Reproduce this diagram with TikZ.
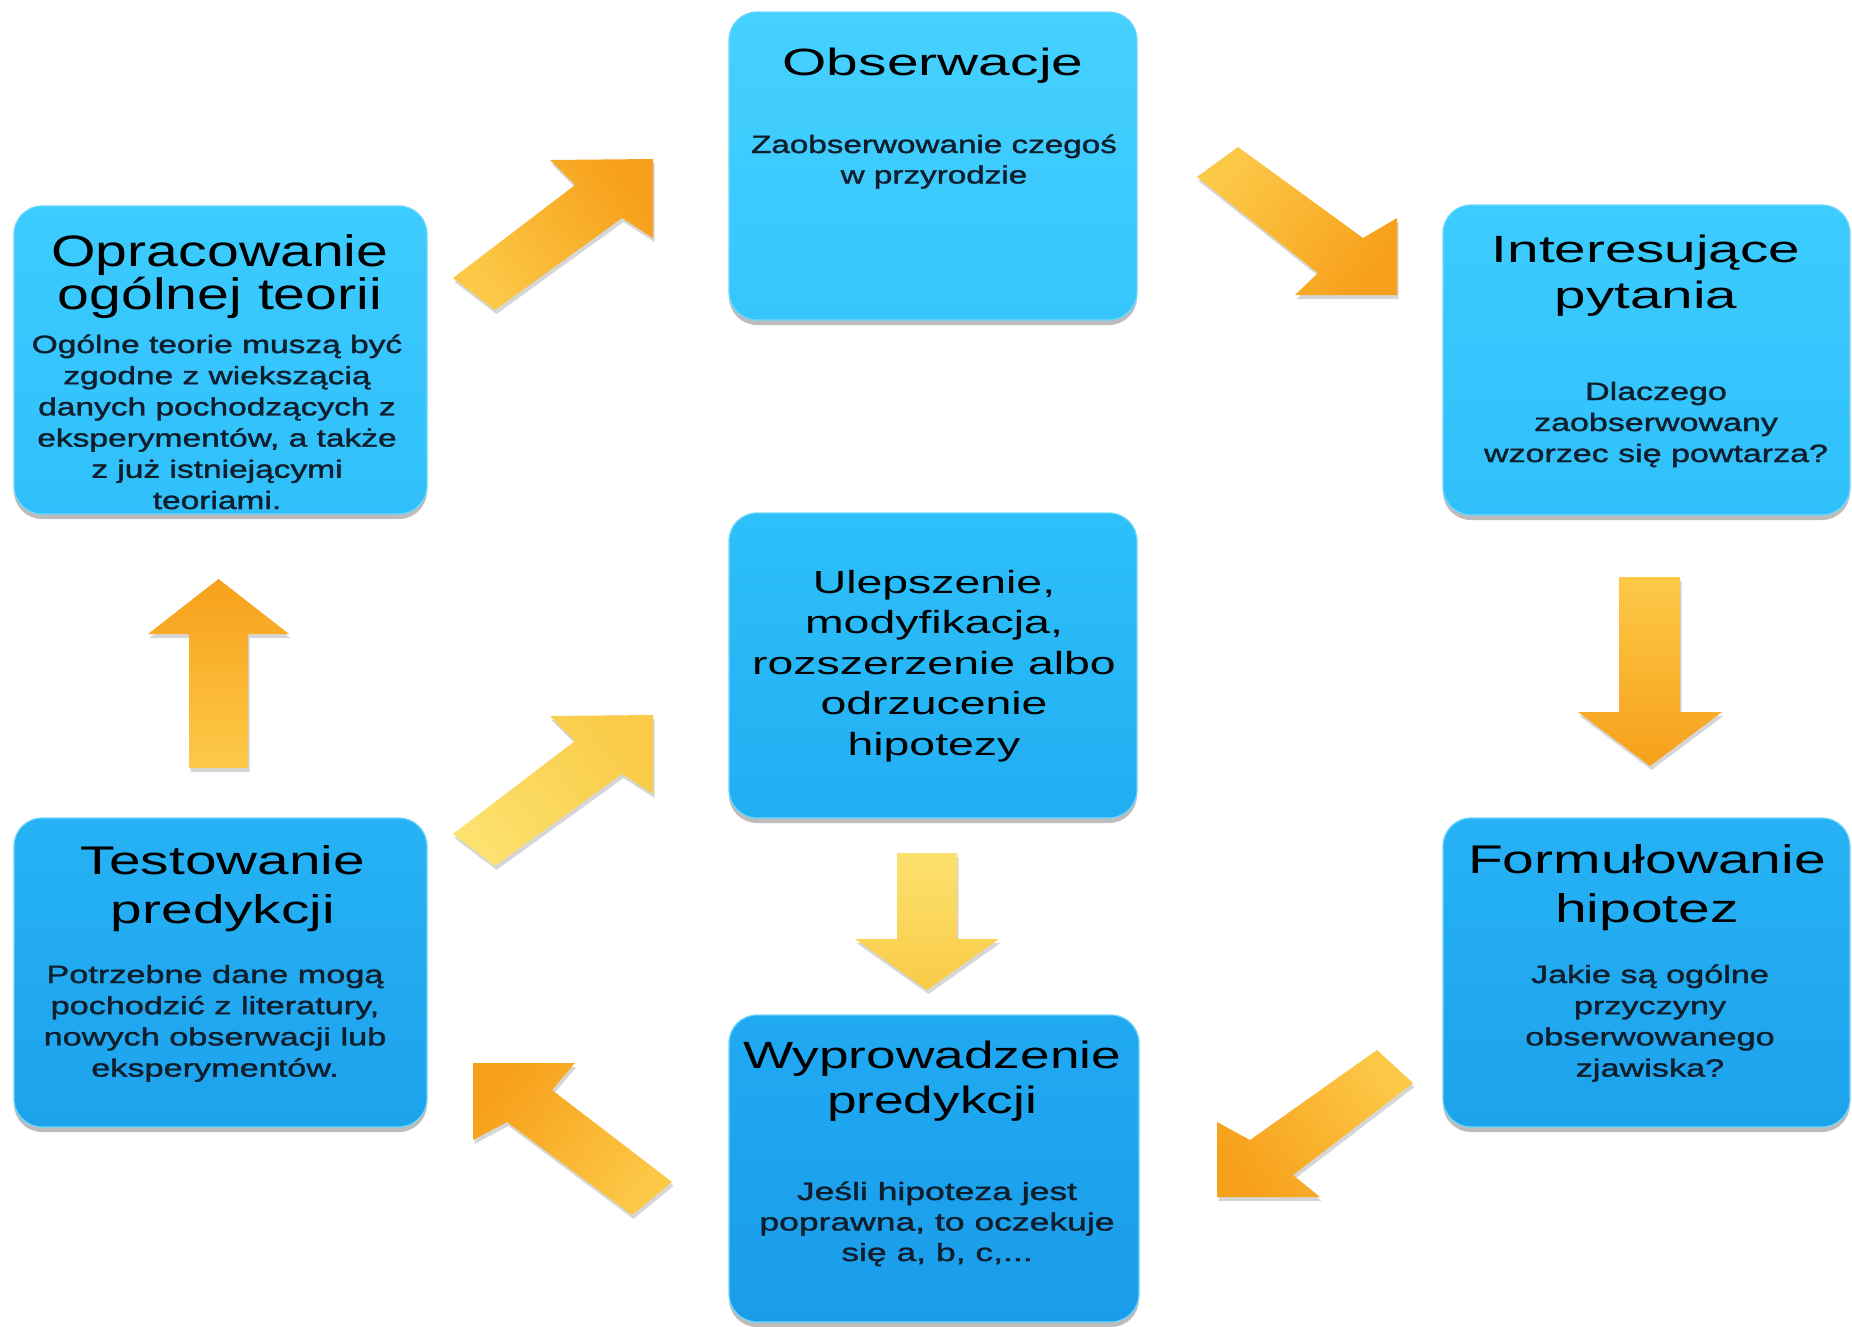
\documentclass[tikz,border=0pt]{standalone}
\usepackage{fontspec}
\setmainfont{Liberation Sans}
\newfontfamily\bodyfnt{Liberation Sans}[FakeBold=1.2]
\usepackage{graphicx}
\usetikzlibrary{shadows}
\definecolor{rowAt}{HTML}{45D1FF}
\definecolor{rowAb}{HTML}{36C6FC}
\definecolor{rowBt}{HTML}{3DCCFF}
\definecolor{rowBb}{HTML}{2FBFFA}
\definecolor{rowCt}{HTML}{2DC0FA}
\definecolor{rowCb}{HTML}{22AEF2}
\definecolor{rowDt}{HTML}{26B2F5}
\definecolor{rowDb}{HTML}{1DA2EC}
\definecolor{rowEt}{HTML}{20AAF2}
\definecolor{rowEb}{HTML}{1A9CEA}
\definecolor{boxedge}{HTML}{6FD6FA}
\definecolor{bodytxt}{HTML}{0F1E2C}
\definecolor{headOr}{HTML}{F7A01B}
\definecolor{tailOr}{HTML}{FCC947}
\definecolor{headYe}{HTML}{F9CB47}
\definecolor{tailYe}{HTML}{FCE16E}
\newcommand{\txtblock}[4]{\scalebox{#1}[1]{\fontsize{#2}{#3}\selectfont\lineskiplimit=-1000pt\lineskip=0pt\relax\vtop{\halign{\hfil##\hfil\cr#4\crcr}}}}
\newcommand{\barrow}[4]{%
  \fill[black,opacity=0.16,xshift=1.5pt,yshift=-4pt] #4 -- cycle;
  \shade[top color=#1,bottom color=#2,shading angle=#3] #4 -- cycle;}
\tikzset{
  box/.style={rectangle, rounded corners=28pt, inner sep=0pt, draw=boxedge, line width=1.2pt,
    drop shadow={shadow xshift=0pt, shadow yshift=-5pt, opacity=0.35, fill=black!75}},
  ttl/.style={anchor=base, inner sep=0pt, text=black},
  bdy/.style={anchor=base, inner sep=0pt, text=bodytxt, font=\bodyfnt}
}
\begin{document}
\begin{tikzpicture}[x=1pt,y=-1pt]
\fill[white] (0,0) rectangle (1852,1326);
\useasboundingbox (0,0) rectangle (1852,1326);

% boxes
\node[box, minimum width=408pt, minimum height=308pt, top color=rowAt, bottom color=rowAb] (obs) at (933,166) {};
\node[box, minimum width=413pt, minimum height=308pt, top color=rowBt, bottom color=rowBb] (teo) at (220.5,360) {};
\node[box, minimum width=407pt, minimum height=310pt, top color=rowBt, bottom color=rowBb] (pyt) at (1646.5,360) {};
\node[box, minimum width=408pt, minimum height=305pt, top color=rowCt, bottom color=rowCb] (ule) at (933,665.5) {};
\node[box, minimum width=413pt, minimum height=309pt, top color=rowDt, bottom color=rowDb] (tes) at (220.5,972.5) {};
\node[box, minimum width=407pt, minimum height=309pt, top color=rowDt, bottom color=rowDb] (hip) at (1646.5,972.5) {};
\node[box, minimum width=410pt, minimum height=307pt, top color=rowEt, bottom color=rowEb] (pre) at (934,1168.5) {};

% texts
\node[ttl] (obs-t) at (933,75) {\txtblock{1.5}{38}{40}{Obserwacje}};
\node[bdy] (obs-b) at (934,153) {\txtblock{1.33}{25}{30.5}{Zaobserwowanie czegoś\cr w przyrodzie}};

\node[ttl] (teo-t) at (220,266) {\txtblock{1.3}{44}{43}{Opracowanie\cr ogólnej teorii}};
\node[bdy] (teo-b) at (217,353) {\txtblock{1.34}{25}{31.2}{Ogólne teorie muszą być\cr zgodne z wiekszącią\cr danych pochodzących z\cr eksperymentów, a także\cr z już istniejącymi\cr teoriami.}};

\node[ttl] (pyt-t) at (1646,262) {\txtblock{1.49}{38}{46}{Interesujące\cr pytania}};
\node[bdy] (pyt-b) at (1656,400) {\txtblock{1.36}{25}{31}{Dlaczego\cr zaobserwowany\cr wzorzec się powtarza?}};

\node[ttl] (ule-t) at (934,593) {\txtblock{1.45}{32}{40.5}{Ulepszenie,\cr modyfikacja,\cr rozszerzenie albo\cr odrzucenie\cr hipotezy}};

\node[ttl] (tes-t) at (223,874) {\txtblock{1.42}{40}{49}{Testowanie\cr predykcji}};
\node[bdy] (tes-b) at (215,983) {\txtblock{1.37}{25}{31.2}{Potrzebne dane mogą\cr pochodzić z literatury,\cr nowych obserwacji lub\cr eksperymentów.}};

\node[ttl] (hip-t) at (1647,873) {\txtblock{1.425}{40}{49}{Formułowanie\cr hipotez}};
\node[bdy] (hip-b) at (1650,983) {\txtblock{1.37}{25}{31.2}{Jakie są ogólne\cr przyczyny\cr obserwowanego\cr zjawiska?}};

\node[ttl] (pre-t) at (932,1068) {\txtblock{1.40}{38}{45}{Wyprowadzenie\cr predykcji}};
\node[bdy] (pre-b) at (937,1200) {\txtblock{1.42}{25}{30.5}{Jeśli hipoteza jest\cr poprawna, to oczekuje\cr się a, b, c,...}};

% block arrows
\barrow{headOr}{tailOr}{-53}{(453,278) -- (575,185) -- (550,160) -- (653,159) -- (653,238) -- (622,218) -- (495,310)}
\barrow{headOr}{tailOr}{-126}{(1197,177) -- (1238,147) -- (1363,238) -- (1397,218) -- (1397,295) -- (1295,295) -- (1318,273)}
\barrow{headOr}{tailOr}{180}{(1619,577) -- (1680,577) -- (1680,712) -- (1722,712) -- (1650,766) -- (1578,712) -- (1619,712)}
\barrow{headOr}{tailOr}{126}{(1377,1050) -- (1413,1083) -- (1293,1175) -- (1320,1197) -- (1217,1197) -- (1217,1122) -- (1250,1140)}
\barrow{headOr}{tailOr}{53}{(473,1063) -- (575,1063) -- (552,1090) -- (672,1182) -- (632,1215) -- (507,1122) -- (473,1140)}
\barrow{headOr}{tailOr}{0}{(189,768) -- (189,634) -- (148,634) -- (218.5,579) -- (289,634) -- (248,634) -- (248,768)}
\barrow{headYe}{tailYe}{-53}{(453,834) -- (575,741) -- (550,716) -- (653,715) -- (653,794) -- (622,774) -- (495,866)}
\barrow{headYe}{tailYe}{180}{(897,853) -- (957,853) -- (957,939) -- (999,939) -- (927,990) -- (855,939) -- (897,939)}
\end{tikzpicture}
\end{document}
